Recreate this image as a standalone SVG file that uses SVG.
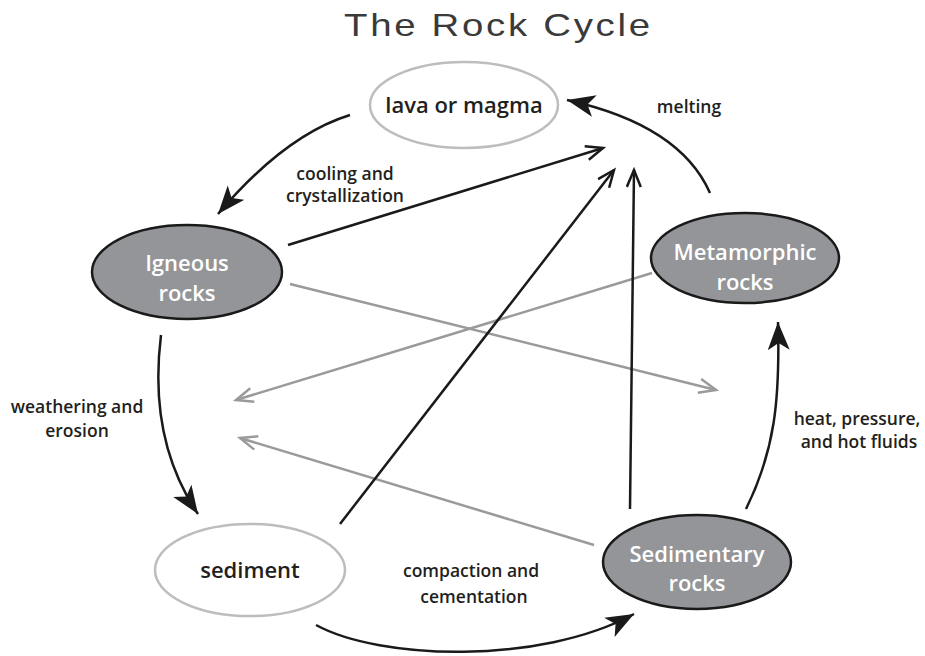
<svg xmlns="http://www.w3.org/2000/svg" width="925" height="656" viewBox="0 0 925 656">
<style>
.bg{fill:#ffffff}
.dark{fill:#939598;stroke:#1a1a1a;stroke-width:2.5}
.light{fill:#ffffff;stroke:#bdbdbd;stroke-width:2.5}
.nt{font-family:"Open Sans","Liberation Sans",sans-serif;font-weight:600;font-size:22px;text-anchor:middle}
.w{fill:#ffffff}
.k{fill:#231f20}
.lbl{font-family:"Open Sans","Liberation Sans",sans-serif;font-weight:600;font-size:17.5px;text-anchor:middle;fill:#231f20}
.title{font-family:"Liberation Sans","DejaVu Sans",sans-serif;font-size:32px;fill:#3a3a3a}
.cb{fill:none;stroke:#1a1a1a;stroke-width:2.5}
.cg{fill:none;stroke:#9a9a9a;stroke-width:2.5}
</style>
<defs>
<marker id="big" markerUnits="userSpaceOnUse" markerWidth="30" markerHeight="24" refX="28" refY="11" orient="auto">
<path d="M0,0 L28,11 L0,22 L7,11 Z" fill="#1a1a1a"/>
</marker>
<marker id="openk" markerUnits="userSpaceOnUse" markerWidth="22" markerHeight="18" refX="19" refY="8" orient="auto">
<path d="M2,1 L19,8 L2,15" fill="none" stroke="#1a1a1a" stroke-width="2.5"/>
</marker>
<marker id="openg" markerUnits="userSpaceOnUse" markerWidth="22" markerHeight="18" refX="19" refY="8" orient="auto">
<path d="M2,1 L19,8 L2,15" fill="none" stroke="#9a9a9a" stroke-width="2.5"/>
</marker>
</defs>
<rect class="bg" x="0" y="0" width="925" height="656"/>
<text class="title" transform="translate(344,36) scale(1.2,1)" x="0" y="0" textLength="255" lengthAdjust="spacing">The Rock Cycle</text>

<g id="connectors">
<path class="cg" d="M290,284 L716,390" marker-end="url(#openg)"/>
<path class="cg" d="M652,273 L236,400" marker-end="url(#openg)"/>
<path class="cg" d="M594,545 L240,438" marker-end="url(#openg)"/>
<path class="cb" d="M288,245 L603,148" marker-end="url(#openk)"/>
<path class="cb" d="M340,524 L614,170" marker-end="url(#openk)"/>
<path class="cb" d="M630,509 L634,170" marker-end="url(#openk)"/>
<path class="cb" d="M350,115 Q285,135 218,214" marker-end="url(#big)"/>
<path class="cb" d="M710,193 Q680,125 567,100" marker-end="url(#big)"/>
<path class="cb" d="M161,335 Q148,440 198,514" marker-end="url(#big)"/>
<path class="cb" d="M316,625 C380,660 540,665 634,614" marker-end="url(#big)"/>
<path class="cb" d="M746,509 C775,450 780,400 778,322" marker-end="url(#big)"/>
</g>

<g id="labels">
<text class="lbl" x="345" y="180">cooling and</text>
<text class="lbl" x="345" y="202">crystallization</text>
<text class="lbl" x="689" y="113">melting</text>
<text class="lbl" x="77" y="413">weathering and</text>
<text class="lbl" x="77" y="437">erosion</text>
<text class="lbl" x="857" y="425">heat, pressure,</text>
<text class="lbl" x="859" y="448">and hot fluids</text>
<text class="lbl" x="471" y="577">compaction and</text>
<text class="lbl" x="474" y="603">cementation</text>
</g>

<g id="node-lava">
<ellipse class="light" cx="464" cy="105" rx="94" ry="43"/>
<text class="nt k" x="464" y="113">lava or magma</text>
</g>
<g id="node-igneous">
<ellipse class="dark" cx="187" cy="272" rx="95" ry="47"/>
<text class="nt w" x="187" y="271">Igneous</text>
<text class="nt w" x="187" y="301">rocks</text>
</g>
<g id="node-metamorphic">
<ellipse class="dark" cx="745" cy="258" rx="94" ry="45"/>
<text class="nt w" x="745" y="260">Metamorphic</text>
<text class="nt w" x="745" y="290">rocks</text>
</g>
<g id="node-sediment">
<ellipse class="light" cx="250" cy="570" rx="95" ry="46"/>
<text class="nt k" x="250" y="578">sediment</text>
</g>
<g id="node-sedimentary">
<ellipse class="dark" cx="697" cy="562" rx="94" ry="47"/>
<text class="nt w" x="697" y="562">Sedimentary</text>
<text class="nt w" x="697" y="591">rocks</text>
</g>
</svg>
